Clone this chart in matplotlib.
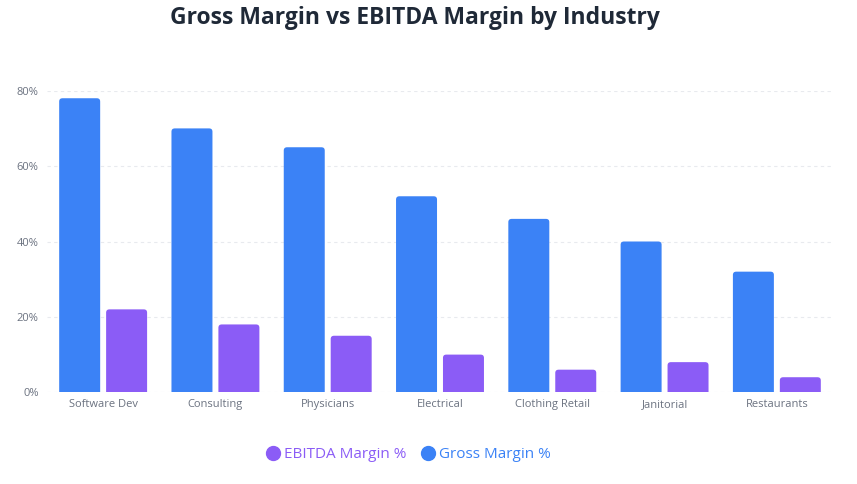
import matplotlib
matplotlib.use("Agg")
import matplotlib.pyplot as plt
from matplotlib.patches import FancyBboxPatch
from matplotlib.lines import Line2D
import numpy as np

plt.rcParams['font.family'] = ['Open Sans', 'DejaVu Sans']

industries = ['Software Dev', 'Consulting', 'Physicians', 'Electrical',
              'Clothing Retail', 'Janitorial', 'Restaurants']
gross_margin = [78, 70, 65, 52, 46, 40, 32]
ebitda_margin = [22, 18, 15, 10, 6, 8, 4]

blue = '#3b82f6'
purple = '#8b5cf6'

fig = plt.figure(figsize=(8.57, 4.84), dpi=100)
ax = fig.add_axes([47 / 857, 1 - 392.3 / 484, (833 - 47) / 857, (392.3 - 90.7) / 484])

x = np.arange(len(industries))
bar_w = 0.365
off = 0.209

b1 = ax.bar(x - off, gross_margin, bar_w, color=blue)
b2 = ax.bar(x + off, ebitda_margin, bar_w, color=purple)

# rounded top corners: swap rectangles for rounded boxes, bottom pushed below 0
r = 0.03
aspect = 0.85 / r
for bars in (b1, b2):
    for rect in bars:
        fb = FancyBboxPatch((rect.get_x(), -2), rect.get_width(), rect.get_height() + 2,
                            boxstyle='round,pad=0,rounding_size=%f' % r,
                            mutation_aspect=aspect, fc=rect.get_facecolor(), ec='none')
        ax.add_patch(fb)
        rect.set_visible(False)

ax.set_xlim(-0.5, len(industries) - 0.5)
ax.set_ylim(0, 80)
ax.set_yticks([0, 20, 40, 60, 80])
ax.set_yticklabels(['0%', '20%', '40%', '60%', '80%'])
ax.set_xticks(x)
ax.set_xticklabels(industries)
ax.tick_params(axis='both', length=0, labelsize=8, labelcolor='#6b7280')
ax.tick_params(axis='y', pad=6)
ax.tick_params(axis='x', pad=5)
ax.grid(axis='y', color='#e8eaee', linestyle=(0, (3, 3)), linewidth=0.8)
ax.set_axisbelow(True)
for s in ax.spines.values():
    s.set_visible(False)

fig.text(415 / 857, 1 - 18 / 484, 'Gross Margin vs EBITDA Margin by Industry',
         ha='center', va='center', fontsize=16.5, fontweight='bold', color='#1f2937')

handles = [Line2D([], [], marker='o', linestyle='none', markersize=10, color=purple),
           Line2D([], [], marker='o', linestyle='none', markersize=10, color=blue)]
leg = fig.legend(handles, ['EBITDA Margin %', 'Gross Margin %'], loc='center',
                 bbox_to_anchor=(408 / 857, 1 - 455 / 484), ncol=2, frameon=False,
                 fontsize=11, handletextpad=0.25, columnspacing=0.9, handlelength=1.0)
for t, c in zip(leg.get_texts(), [purple, blue]):
    t.set_color(c)

fig.savefig('out.png', dpi=100)
